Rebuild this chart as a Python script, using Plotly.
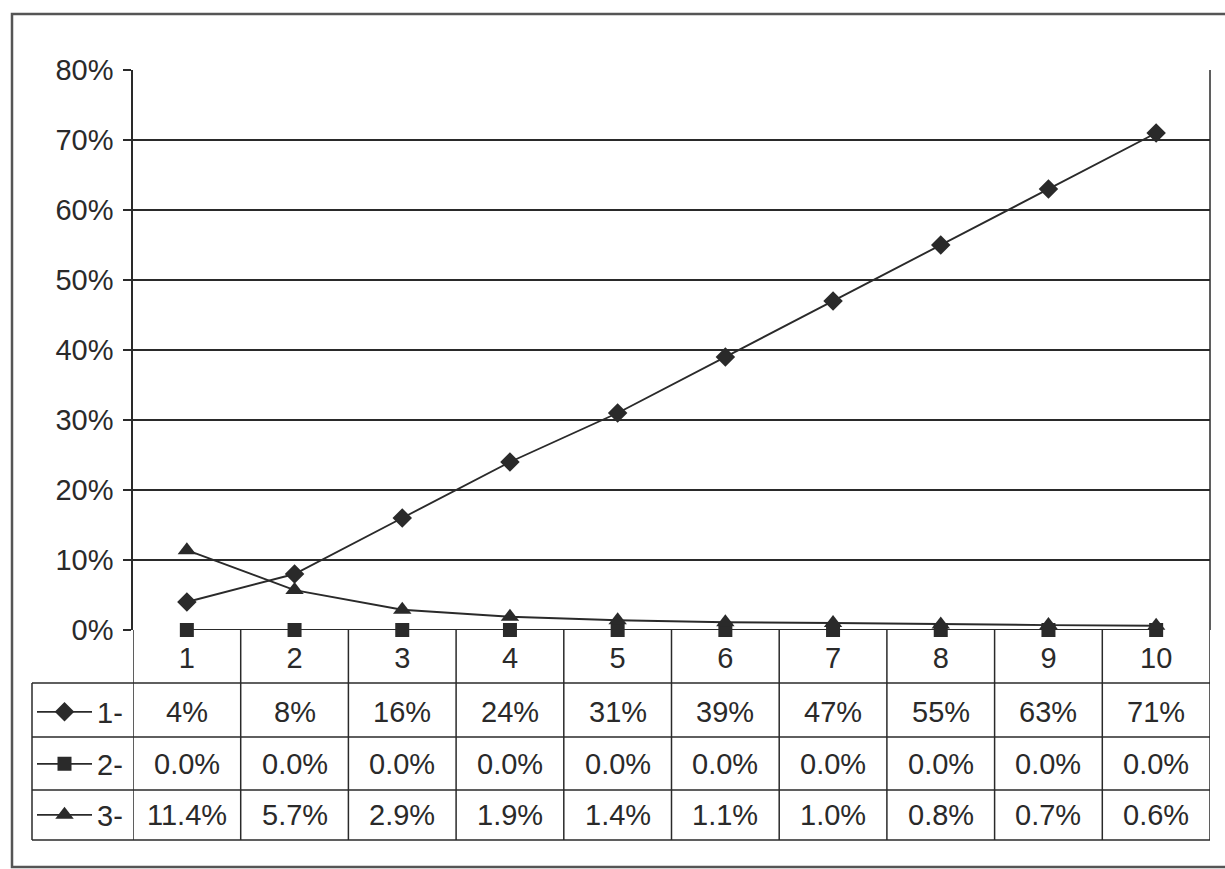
import plotly.graph_objects as go

# ---------------- data ----------------
categories = [1, 2, 3, 4, 5, 6, 7, 8, 9, 10]
series_names = ["1-", "2-", "3-"]
s1_values = [4, 8, 16, 24, 31, 39, 47, 55, 63, 71]
s2_values = [0.0, 0.0, 0.0, 0.0, 0.0, 0.0, 0.0, 0.0, 0.0, 0.0]
s3_values = [11.4, 5.7, 2.9, 1.9, 1.4, 1.1, 1.0, 0.8, 0.7, 0.6]
s_decimals = [0, 1, 1]
y_ticks = [0, 10, 20, 30, 40, 50, 60, 70, 80]

# ---------------- layout helpers (pixels -> paper) ----------------
W, H = 1225, 869
def px(x):
    return x / W
def py(y):
    return 1 - y / H

FONT = "Liberation Sans Narrow, Arial Narrow, Liberation Sans, Arial, sans-serif"
INK = "#2a2a2a"
FS = 29

plot_left, plot_right = 133, 1210
plot_top, plot_bottom = 70, 630
table_left = 32
row_lines = [683, 737, 790, 840]
row_centers = [712, 764, 815]

fig = go.Figure()

series = [s1_values, s2_values, s3_values]
symbols = ["diamond", "square", "triangle-up"]
msizes = [15, 14, 16]
legends = ["legend", "legend2", "legend3"]
for vals, name, sym, ms, lg in zip(series, series_names, symbols, msizes, legends):
    fig.add_trace(go.Scatter(
        x=categories, y=vals, name=name, mode="lines+markers",
        line=dict(color=INK, width=1.9),
        marker=dict(symbol=sym, size=ms, color=INK),
        cliponaxis=False, legend=lg,
    ))

shapes = []
# outer frame
shapes.append(dict(type="rect", xref="paper", yref="paper",
                   x0=px(12), x1=px(1240), y0=py(867), y1=py(14),
                   line=dict(color="#555", width=2.5)))
# table horizontal lines
for i, yy in enumerate(row_lines):
    shapes.append(dict(type="line", xref="paper", yref="paper",
                       x0=px(table_left), x1=px(plot_right), y0=py(yy), y1=py(yy),
                       line=dict(color=INK, width=1.5)))
# table left edge
shapes.append(dict(type="line", xref="paper", yref="paper",
                   x0=px(table_left), x1=px(table_left), y0=py(row_lines[0]), y1=py(row_lines[-1]),
                   line=dict(color=INK, width=1.5)))
# vertical column separators (category boundaries on the x axis)
for k in range(len(categories) + 1):
    xb = categories[0] - 0.5 + k
    shapes.append(dict(type="line", xref="x", yref="paper",
                       x0=xb, x1=xb, y0=py(plot_bottom), y1=py(row_lines[-1]),
                       line=dict(color=INK, width=1.5)))
# plot right edge
shapes.append(dict(type="line", xref="paper", yref="paper",
                   x0=px(plot_right), x1=px(plot_right), y0=py(plot_top), y1=py(plot_bottom),
                   line=dict(color=INK, width=1.5)))

annotations = []
for vals, dec, yc in zip(series, s_decimals, row_centers):
    for c, v in zip(categories, vals):
        annotations.append(dict(x=c, y=py(yc), xref="x", yref="paper",
                                text=f"{v:.{dec}f}%", showarrow=False,
                                font=dict(family=FONT, size=FS, color=INK),
                                xanchor="center", yanchor="middle"))

legend_common = dict(xanchor="left", yanchor="middle", bgcolor="rgba(0,0,0,0)",
                     font=dict(family=FONT, size=FS, color=INK), borderwidth=0,
                     itemwidth=55)

fig.update_layout(
    width=W, height=H, autosize=False,
    margin=dict(l=0, r=0, t=0, b=0, autoexpand=False),
    paper_bgcolor="white", plot_bgcolor="white",
    font=dict(family=FONT, size=FS, color=INK),
    xaxis=dict(domain=[px(plot_left), px(plot_right)], range=[0.5, 10.5],
               tickmode="array", tickvals=categories, ticktext=[str(c) for c in categories],
               ticks="", showgrid=False, zeroline=False, showline=False,
               ticklabelstandoff=8, fixedrange=True, automargin=False),
    yaxis=dict(domain=[py(plot_bottom), py(plot_top)], range=[0, 80],
               tickmode="array", tickvals=y_ticks, ticktext=[f"{t}%" for t in y_ticks],
               ticks="outside", ticklen=8, tickcolor=INK, tickwidth=1.5,
               showgrid=True, gridcolor=INK, gridwidth=1.5,
               showline=True, linecolor=INK, linewidth=1.5, zeroline=False,
               ticklabelstandoff=4, fixedrange=True, automargin=False),
    shapes=shapes, annotations=annotations,
    showlegend=True,
    legend=dict(x=px(table_left), y=py(row_centers[0]), **legend_common),
    legend2=dict(x=px(table_left), y=py(row_centers[1]), **legend_common),
    legend3=dict(x=px(table_left), y=py(row_centers[2]), **legend_common),
)

fig.write_html("out.html")
